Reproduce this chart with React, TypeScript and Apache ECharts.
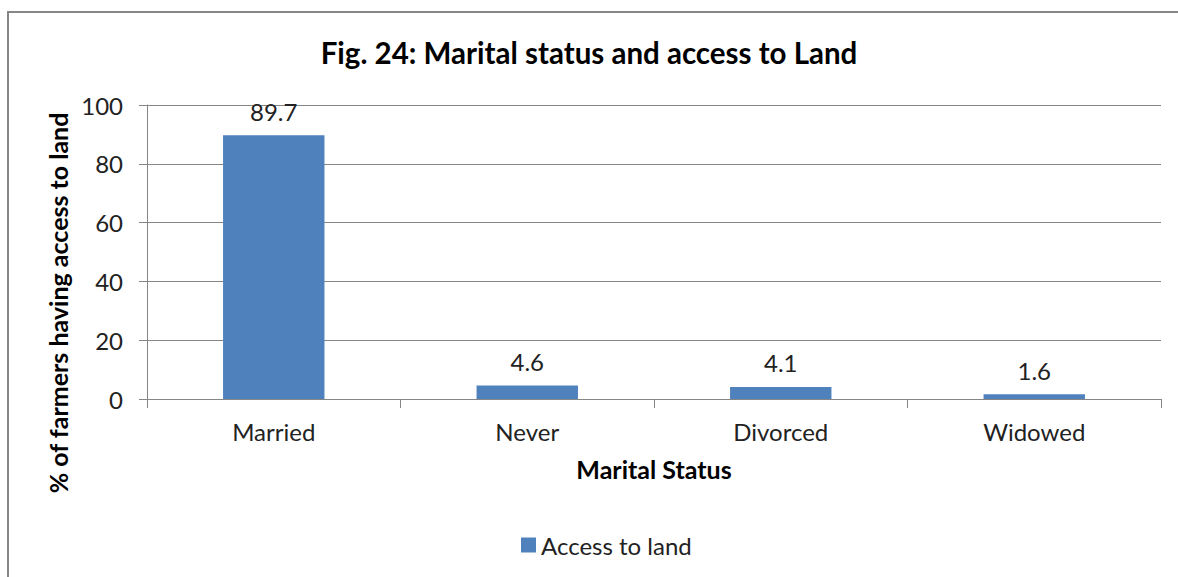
import React, { useEffect, useRef } from "react";
import * as echarts from "echarts";

const categories = ["Married", "Never", "Divorced", "Widowed"];
const accessToLand = [89.7, 4.6, 4.1, 1.6];
const seriesName = "Access to land";
const titleText = "Fig. 24: Marital status and access to Land";
const xAxisName = "Marital Status";
const yAxisName = "% of farmers having access to land";

const FONT = "Lato, 'Liberation Sans', sans-serif";

export default function App() {
  const ref = useRef<HTMLDivElement>(null);
  useEffect(() => {
    document.body.style.margin = "0";
    const chart = echarts.init(ref.current!, undefined, { renderer: "svg" });
    chart.setOption({
      animation: false,
      backgroundColor: "#fff",
      textStyle: { fontFamily: FONT },
      title: {
        text: titleText,
        left: "center",
        top: 32,
        textStyle: { fontFamily: FONT, fontSize: 29.5, fontWeight: "bold", color: "#000" },
      },
      graphic: [
        {
          type: "rect",
          shape: { x: 8, y: 12, width: 1200, height: 600 },
          style: { fill: "none", stroke: "#868686", lineWidth: 2 },
          silent: true,
        },
        {
          type: "text",
          x: 58,
          y: 303,
          rotation: Math.PI / 2,
          style: {
            text: yAxisName,
            fontFamily: FONT,
            fontSize: 25,
            fontWeight: "bold",
            fill: "#000",
            align: "center",
            verticalAlign: "middle",
          },
        },
      ],
      legend: {
        data: [seriesName],
        bottom: 15,
        left: 516,
        icon: "rect",
        itemWidth: 15,
        itemHeight: 15,
        itemGap: 6,
        textStyle: { fontFamily: FONT, fontSize: 24, color: "#222" },
      },
      grid: { left: 147, right: 17, top: 105, bottom: 178 },
      xAxis: {
        type: "category",
        data: categories,
        name: xAxisName,
        nameLocation: "middle",
        nameGap: 70,
        nameTextStyle: { fontFamily: FONT, fontSize: 25, fontWeight: "bold", color: "#000", verticalAlign: "middle" },
        axisLine: { lineStyle: { color: "#868686" } },
        axisTick: { show: true, length: 9, lineStyle: { color: "#868686" } },
        axisLabel: { fontFamily: FONT, fontSize: 24, color: "#222", margin: 20 },
      },
      yAxis: {
        type: "value",
        min: 0,
        max: 100,
        interval: 20,
        axisLine: { show: true, lineStyle: { color: "#868686" } },
        axisTick: { show: true, length: 8, lineStyle: { color: "#868686" } },
        axisLabel: { fontFamily: FONT, fontSize: 24, color: "#222", margin: 24 },
        splitLine: { lineStyle: { color: "#868686" } },
      },
      series: [
        {
          name: seriesName,
          type: "bar",
          data: accessToLand,
          barWidth: "40%",
          itemStyle: { color: "#4F81BD" },
          label: {
            show: true,
            position: "top",
            distance: 12,
            fontFamily: FONT,
            fontSize: 24,
            color: "#222",
          },
        },
      ],
    });
    return () => chart.dispose();
  }, []);
  return <div ref={ref} style={{ width: 1178, height: 577 }} />;
}
